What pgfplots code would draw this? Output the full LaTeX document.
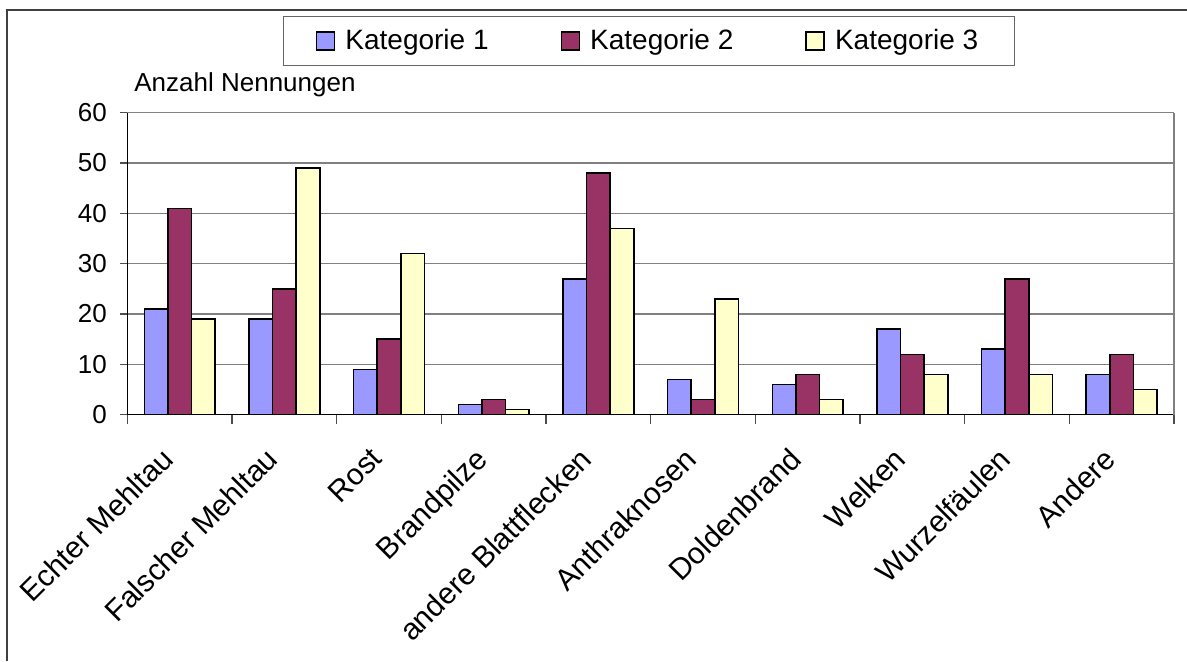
\documentclass[border=0pt]{standalone}
\usepackage{pgfplots}
\pgfplotsset{compat=1.18}
\usepackage{fontspec}
\setmainfont{Liberation Sans}

\definecolor{kat1}{HTML}{9999FF}
\definecolor{kat2}{HTML}{993366}
\definecolor{kat3}{HTML}{FFFFCC}

\begin{document}
\begin{tikzpicture}
\useasboundingbox (0,0) rectangle (593.5pt,330.5pt);
% Rahmen des Diagrammbereichs (nur links und oben sichtbar)
\draw[black!75, line width=1pt] (3.5pt,0) -- (3.5pt,325.5pt) -- (593.5pt,325.5pt);
\begin{axis}[
    at={(63.7pt,123.15pt)}, anchor=south west,
    scale only axis, width=523.3pt, height=151pt,
    clip mode=individual,
    ybar=0pt, bar width=11.8pt,
    xmin=-0.5, xmax=9.5, ymin=0, ymax=60,
    axis x line*=bottom, axis y line*=left,
    axis line style={black, line width=0.6pt, -},
    xtick={0,...,9},
    xticklabels={Echter Mehltau, Falscher Mehltau, Rost, Brandpilze,
        andere Blattflecken, Anthraknosen, Doldenbrand, Welken,
        Wurzelfäulen, Andere},
    minor xtick={-0.5,0.5,...,9.5},
    major x tick style={draw=none},
    ytick={0,10,...,60},
    tick align=outside,
    major tick length=3.8pt, minor tick length=4.5pt,
    tick style={black!70, line width=0.6pt},
    ymajorgrids, grid style={black!50, line width=0.6pt},
    yticklabel style={font=\fontsize{13}{15}\selectfont,
        /pgf/number format/assume math mode=true},
    yticklabel shift=3pt,
    xticklabel style={xshift=-10pt, rotate=45, anchor=north east,
        inner sep=0pt, font=\fontsize{15}{17}\selectfont},
    xticklabel shift=11.5pt,
    every axis plot/.append style={draw=black, line width=0.8pt},
    legend columns=3,
    legend style={at={(0.4984,1.2374)}, anchor=center,
        draw=black!60, line width=0.6pt,
        font=\fontsize{14}{16}\selectfont,
        inner xsep=16pt, inner ysep=4.5pt,
        /tikz/every odd column/.append style={column sep=3pt},
        /tikz/every even column/.append style={column sep=34pt}},
    legend image code/.code={
        \draw[#1, line width=0.8pt] (0pt,-4.5pt) rectangle (9pt,4.5pt);},
]
\addplot[fill=kat1] coordinates {(0,21) (1,19) (2,9) (3,2) (4,27) (5,7) (6,6) (7,17) (8,13) (9,8)};
\addplot[fill=kat2] coordinates {(0,41) (1,25) (2,15) (3,3) (4,48) (5,3) (6,8) (7,12) (8,27) (9,12)};
\addplot[fill=kat3] coordinates {(0,19) (1,49) (2,32) (3,1) (4,37) (5,23) (6,3) (7,8) (8,8) (9,5)};
\legend{Kategorie 1, Kategorie 2, Kategorie 3}
\draw[black!50, line width=0.6pt] (rel axis cs:1,0) -- (rel axis cs:1,1);
\node[anchor=base west, inner sep=0pt, font=\fontsize{13}{15}\selectfont]
    at (rel axis cs:0.0063,1.070) {Anzahl Nennungen};
\end{axis}
\end{tikzpicture}
\end{document}
